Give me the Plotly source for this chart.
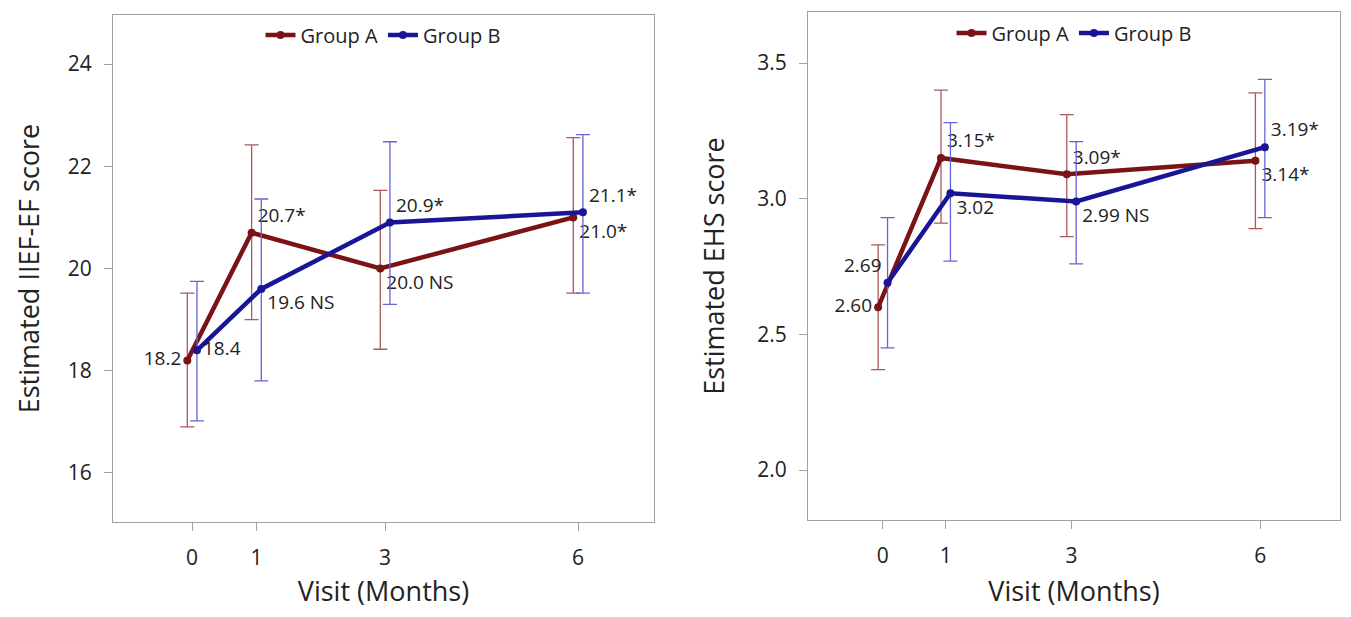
import plotly.graph_objects as go

# ---- data ----
visits = [0, 1, 3, 6]
tick_labels = ["0", "1", "3", "6"]
groups = ["Group A", "Group B"]

# IIEF-EF (left panel)
iief_a = [18.2, 20.7, 20.0, 21.0]
iief_b = [18.4, 19.6, 20.9, 21.1]
iief_a_hi = [19.52, 22.42, 21.53, 22.56]
iief_a_lo = [16.9, 19.0, 18.42, 19.52]
iief_b_hi = [19.75, 21.36, 22.48, 22.62]
iief_b_lo = [17.02, 17.8, 19.3, 19.52]
iief_a_txt = ["18.2", "20.7*", "20.0 NS", "21.0*"]
iief_b_txt = ["18.4", "19.6 NS", "20.9*", "21.1*"]

# EHS (right panel)
ehs_a = [2.60, 3.15, 3.09, 3.14]
ehs_b = [2.69, 3.02, 2.99, 3.19]
ehs_a_hi = [2.83, 3.40, 3.31, 3.39]
ehs_a_lo = [2.37, 2.91, 2.86, 2.89]
ehs_b_hi = [2.93, 3.28, 3.21, 3.44]
ehs_b_lo = [2.45, 2.77, 2.76, 2.93]
ehs_a_txt = ["2.60", "3.15*", "3.09*", "3.14*"]
ehs_b_txt = ["2.69", "3.02", "2.99 NS", "3.19*"]

# ---- styles ----
col_a = "rgb(122,18,22)"
col_b = "rgb(24,22,150)"
err_a = "rgb(170,90,90)"
err_b = "rgb(100,100,215)"
offset = 0.075
FONT = "Open Sans"
TXT = "#222"

fig = go.Figure()


def add_group(xaxis, yaxis, vals, hi, lo, txt, pos, name, col, ecol, dx, legend):
    xs = [v + dx for v in visits]
    fig.add_trace(go.Scatter(
        x=xs, y=vals, xaxis=xaxis, yaxis=yaxis, name=name, legend=legend,
        mode="lines+markers+text", text=txt, textposition=pos,
        textfont=dict(family=FONT, size=19, color=TXT),
        line=dict(color=col, width=4.5),
        marker=dict(color=col, size=8),
        error_y=dict(type="data", symmetric=False,
                     array=[h - v for h, v in zip(hi, vals)],
                     arrayminus=[v - l for l, v in zip(lo, vals)],
                     color=ecol, thickness=1.3, width=7),
        cliponaxis=False,
    ))


add_group("x", "y", iief_a, iief_a_hi, iief_a_lo, iief_a_txt,
          ["middle left", "top right", "bottom right", "bottom right"],
          groups[0], col_a, err_a, -offset, "legend")
add_group("x", "y", iief_b, iief_b_hi, iief_b_lo, iief_b_txt,
          ["middle right", "bottom right", "top right", "top right"],
          groups[1], col_b, err_b, offset, "legend")
add_group("x2", "y2", ehs_a, ehs_a_hi, ehs_a_lo, ehs_a_txt,
          ["middle left", "top right", "top right", "bottom right"],
          groups[0], col_a, err_a, -offset, "legend2")
add_group("x2", "y2", ehs_b, ehs_b_hi, ehs_b_lo, ehs_b_txt,
          ["top left", "bottom right", "bottom right", "top right"],
          groups[1], col_b, err_b, offset, "legend2")

axis_common = dict(showline=True, linecolor="#a0a0a0", linewidth=1.2, mirror=True,
                   ticks="outside", tickcolor="#a0a0a0", ticklen=8,
                   showgrid=False, zeroline=False,
                   tickfont=dict(family=FONT, size=21, color=TXT))

# page body has an 8px margin; work in page pixels and convert
PAD = 8
W, H = 1351 - 2 * PAD, 617 - 2 * PAD


def px_x(a, b):
    return [(a - PAD) / W, (b - PAD) / W]


def px_y(top, bottom):
    return [1 - (bottom - PAD) / H, 1 - (top - PAD) / H]


title_font = dict(family=FONT, size=27, color=TXT)

fig.update_layout(
    width=W, height=H, margin=dict(l=0, r=0, t=0, b=0),
    paper_bgcolor="white", plot_bgcolor="white",
    font=dict(family=FONT, color=TXT),
    xaxis=dict(domain=px_x(113, 654), range=[-1.23, 7.18],
               tickvals=visits, ticktext=tick_labels, anchor="y",
               ticklabelstandoff=9,
               title=dict(text="Visit (Months)", font=title_font, standoff=14),
               **axis_common),
    yaxis=dict(domain=px_y(15, 522), range=[15.04, 24.96],
               tickvals=[16, 18, 20, 22, 24], anchor="x",
               ticklabelstandoff=8,
               title=dict(text="Estimated IIEF-EF score", font=title_font, standoff=20),
               **axis_common),
    xaxis2=dict(domain=px_x(808, 1340), range=[-1.19, 7.27],
                tickvals=visits, ticktext=tick_labels, anchor="y2",
                ticklabelstandoff=9,
                title=dict(text="Visit (Months)", font=title_font, standoff=14),
                **axis_common),
    yaxis2=dict(domain=px_y(12, 520), range=[1.816, 3.688],
                tickvals=[2.0, 2.5, 3.0, 3.5], tickformat=".1f", anchor="x2",
                ticklabelstandoff=8,
                title=dict(text="Estimated EHS score", font=title_font, standoff=24),
                **axis_common),
    legend=dict(orientation="h", x=(383 - PAD) / W, xanchor="center",
                y=1 - (35 - PAD) / H, yanchor="middle",
                font=dict(family=FONT, size=20, color=TXT), bgcolor="rgba(0,0,0,0)"),
    legend2=dict(orientation="h", x=(1074 - PAD) / W, xanchor="center",
                 y=1 - (33 - PAD) / H, yanchor="middle",
                 font=dict(family=FONT, size=20, color=TXT), bgcolor="rgba(0,0,0,0)"),
    showlegend=True,
)

fig.write_html("out.html")
